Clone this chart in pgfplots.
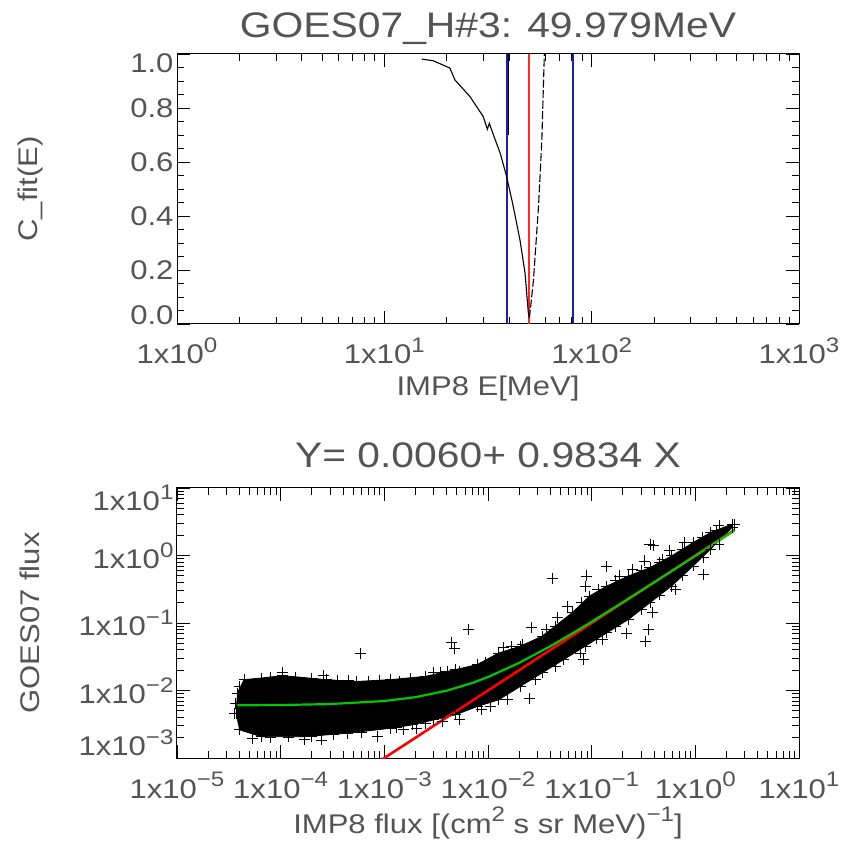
\documentclass[border=0pt]{standalone}
\usepackage{pgfplots}
\pgfplotsset{compat=1.18}
\usepackage{fontspec}
\setmainfont{Liberation Sans}[FakeStretch=1.15]
\definecolor{txt}{gray}{0.33}
\definecolor{navyb}{RGB}{30,30,160}
\definecolor{fitred}{RGB}{255,40,40}
\definecolor{gr}{RGB}{0,200,0}
\newcommand{\sh}[2]{\raisebox{#1}[\height][\depth]{#2}}
\newcommand{\sps}[1]{\raisebox{0.42em}{\fontsize{21}{21}\selectfont #1}}
\newcommand{\tl}[1]{1x10\sps{#1}}
\pgfplotsset{idl/.style={
  scale only axis, width=622pt, height=270pt, anchor=south west,
  tick align=inside, xtick pos=both, ytick pos=both,
  major tick length=13pt, minor tick length=7pt,
  every tick/.style={black, line width=0.8pt},
  axis line style={line width=1pt},
  ticklabel style={font=\fontsize{27}{30}\selectfont, text=txt},
  xticklabel style={anchor=base, yshift=-40pt},
  label style={font=\fontsize{27}{30}\selectfont, text=txt},
  title style={font=\fontsize{35.5}{40}\selectfont, text=txt},
  xlabel style={at={(axis description cs:0.5,-0.24)}, anchor=center},
  ylabel style={at={(axis description cs:-0.236,0.5)}, anchor=center},
}}
\begin{document}
\begin{tikzpicture}
\useasboundingbox (0,0) rectangle (845pt,845pt);
\begin{axis}[idl,
 at={(177pt,521pt)},
 xmode=log, xmin=1, xmax=1000, ymin=0, ymax=1,
 xtick={1,10,100,1000},
 minor xtick={2,3,4,5,6,7,8,9,20,30,40,50,60,70,80,90,200,300,400,500,600,700,800,900},
 xticklabels={\tl{0},\tl{1},\tl{2},\tl{3}},
 ytick={0,0.2,0.4,0.6,0.8,1},
 minor ytick={0.05,0.1,0.15,0.25,0.3,0.35,0.45,0.5,0.55,0.65,0.7,0.75,0.85,0.9,0.95},
 yticklabels={\sh{9pt}{0.0},0.2,0.4,0.6,0.8,\sh{-9pt}{1.0}},
 title={GOES07\_H\#3: 49.979MeV},
 title style={at={(axis description cs:0.5,1)}, anchor=base, yshift=10pt},
 xlabel={IMP8 E[MeV]}, ylabel={C\_fit(E)},
]
\addplot[color=navyb, line width=1.3pt] coordinates {(39.1,0) (39.1,1)};
\addplot[color=navyb, line width=1.3pt] coordinates {(81.3,0) (81.3,1)};
\addplot[color=fitred, line width=1.7pt] coordinates {(49.979,0) (49.979,1)};
\addplot[black, line width=1.1pt] coordinates {(15.15,0.981) (17.2,0.975) (20.7,0.948) (21.9,0.904) (25.9,0.842) (30.0,0.768) (31.4,0.721) (32.1,0.743) (33.6,0.700) (36.2,0.633) (38.9,0.546) (41.9,0.434) (45.1,0.311) (47.7,0.189) (49.5,0.041) (50.1,0.022)};
\addplot[black, line width=1.1pt, dash pattern=on 8pt off 2.5pt] coordinates {(50.1,0.022) (52.4,0.163) (55.4,0.434) (57.5,0.681) (59.1,0.996) (59.4,1.05)};
\addplot[black, line width=1.1pt] coordinates {(39.7,0.70) (39.7,1.05)};
\end{axis}
\begin{axis}[idl,
 at={(177pt,87pt)},
 xmode=log, ymode=log, xmin=1e-5, xmax=10, ymin=1e-3, ymax=10,
 xtick={1e-5,1e-4,1e-3,1e-2,1e-1,1,10},
 minor xtick={2e-5,3e-5,4e-5,5e-5,6e-5,7e-5,8e-5,9e-5,2e-4,3e-4,4e-4,5e-4,6e-4,7e-4,8e-4,9e-4,2e-3,3e-3,4e-3,5e-3,6e-3,7e-3,8e-3,9e-3,0.02,0.03,0.04,0.05,0.06,0.07,0.08,0.09,0.2,0.3,0.4,0.5,0.6,0.7,0.8,0.9,2,3,4,5,6,7,8,9},
 xticklabels={\tl{−5},\tl{−4},\tl{−3},\tl{−2},\tl{−1},\tl{0},\tl{1}},
 ytick={1e-3,1e-2,1e-1,1,10},
 minor ytick={2e-3,3e-3,4e-3,5e-3,6e-3,7e-3,8e-3,9e-3,0.02,0.03,0.04,0.05,0.06,0.07,0.08,0.09,0.2,0.3,0.4,0.5,0.6,0.7,0.8,0.9,2,3,4,5,6,7,8,9},
 yticklabels={\sh{15pt}{\tl{−3}},\tl{−2},\tl{−1},\tl{0},\sh{-10pt}{\tl{1}}},
 title={Y= 0.0060+ 0.9834 X},
 title style={at={(axis description cs:0.5,1)}, anchor=base, yshift=14pt},
 xlabel={IMP8 flux [(cm\sps{2} s sr MeV)\sps{−1}]}, ylabel={GOES07 flux},
]
% dense core of the scatter
\addplot[fill=black, draw=black, line width=0.8pt] coordinates {
(3.83e-5,9.16e-3) (4.43e-5,1.45e-2) (6.49e-5,1.53e-2) (1.05e-4,1.66e-2) (2.74e-4,1.45e-2)
(5.36e-4,1.36e-2) (1.15e-3,1.45e-2) (2.49e-3,1.62e-2) (4.86e-3,2.04e-2) (7.87e-3,2.42e-2)
(1.27e-2,3.60e-2) (2.05e-2,4.53e-2) (3.32e-2,6.37e-2) (4.43e-2,8.97e-2) (6.49e-2,0.142)
(9.53e-2,0.251) (0.140,0.353) (0.226,0.497) (0.365,0.661) (0.590,0.986) (0.953,1.556)
(1.40,2.19) (2.26,2.92) (2.26,2.60) (1.40,1.239) (0.953,0.700) (0.590,0.353) (0.365,0.200)
(0.226,0.1127) (0.140,7.14e-2) (8.65e-2,4.53e-2) (5.36e-2,2.86e-2) (3.32e-2,1.82e-2)
(2.05e-2,1.15e-2) (1.27e-2,7.28e-3) (7.87e-3,5.79e-3) (4.86e-3,4.36e-3) (3.01e-3,3.67e-3)
(1.87e-3,3.10e-3) (1.15e-3,2.76e-3) (4.43e-4,2.33e-3) (1.69e-4,2.07e-3) (6.49e-5,2.07e-3)
(4.02e-5,2.61e-3) (3.72e-5,4.61e-3) (3.83e-5,9.16e-3)};
% individual points (edges and outliers)
\addplot[only marks, mark=+, mark size=5.5pt, black, line width=0.9pt] coordinates {
(3.83e-5,9.16e-3) (4.43e-5,1.45e-2) (6.49e-5,1.53e-2) (1.05e-4,1.66e-2) (2.74e-4,1.45e-2)
(5.36e-4,1.36e-2) (1.15e-3,1.45e-2) (2.49e-3,1.62e-2) (4.86e-3,2.04e-2) (7.87e-3,2.42e-2)
(1.27e-2,3.60e-2) (2.05e-2,4.53e-2) (3.32e-2,6.37e-2) (4.43e-2,8.97e-2) (6.49e-2,0.142)
(9.53e-2,0.251) (0.140,0.353) (0.226,0.497) (0.365,0.661) (0.590,0.986) (0.953,1.556)
(1.40,2.19) (2.26,2.92) (2.26,2.60) (1.40,1.239) (0.953,0.700) (0.590,0.353) (0.365,0.200)
(0.226,0.1127) (0.140,7.14e-2) (8.65e-2,4.53e-2) (5.36e-2,2.86e-2) (3.32e-2,1.82e-2)
(2.05e-2,1.15e-2) (1.27e-2,7.28e-3) (7.87e-3,5.79e-3) (4.86e-3,4.36e-3) (3.01e-3,3.67e-3)
(1.87e-3,3.10e-3) (1.15e-3,2.76e-3) (4.43e-4,2.33e-3) (1.69e-4,2.07e-3) (6.49e-5,2.07e-3)
(4.02e-5,2.61e-3) (3.72e-5,4.61e-3)
(5.36e-5,1.96e-3) (1.69e-4,1.90e-3) (2.49e-4,1.85e-3) (8.65e-4,2.07e-3) (1.54e-3,2.67e-3)
(2.05e-3,2.76e-3) (3.65e-3,3.47e-3) (5.36e-3,3.67e-3) (8.65e-3,5.18e-3) (1.05e-2,5.79e-3)
(1.54e-2,7.28e-3) (4.43e-2,2.28e-2) (7.87e-2,3.60e-2) (0.127,5.69e-2)
(1.40e-3,1.36e-2) (3.01e-3,1.82e-2) (3.48e-3,1.86e-2) (4.02e-3,1.92e-2) (5.36e-3,1.88e-2)
(9.53e-3,2.56e-2) (1.40e-2,4.28e-2) (1.69e-2,4.53e-2) (2.15e-2,4.79e-2) (3.65e-2,8.0e-2)
(4.64e-2,0.119) (5.90e-2,0.178) (0.115,0.315) (0.187,0.497) (0.249,0.625) (0.486,0.879)
(1.16,1.85) (1.69,2.75)
(3.65e-5,6.50e-3) (3.58e-5,4.61e-3) (4.02e-5,1.15e-2)
(8e-5,1.58e-2) (1.4e-4,1.55e-2) (2e-4,1.50e-2) (3.5e-4,1.42e-2) (4.5e-4,1.40e-2)
(7e-4,1.38e-2) (9e-4,1.42e-2) (1.8e-3,1.5e-2)
(8e-5,2.0e-3) (1.2e-4,2.05e-3) (2e-4,2.1e-3) (3.2e-4,2.2e-3) (6e-4,2.4e-3)
(1.3e-3,2.85e-3) (2.5e-3,3.3e-3)
(0.3,0.6) (0.45,0.8) (0.75,1.25) (0.17,0.42) (0.08,0.2)
(0.3,0.16) (0.45,0.26) (0.75,0.5) (1.2,0.95) (0.17,0.09) (0.11,0.058)
(5.90e-4,3.48e-2) (6.49e-3,8.0e-2) (4.43e-3,5.19e-2) (4.78e-3,4.13e-2) (2.61e-4,1.66e-2)
(1.05e-4,1.86e-2) (4.22e-2,0.459) (8.83e-2,0.497) (8.65e-2,0.353) (0.140,0.684)
(0.365,1.47) (0.394,1.39) (0.325,0.830) (2.61e-2,8.67e-2) (2.49e-2,7.53e-3)
(2.87e-2,1.45e-2) (8.26e-2,2.86e-2) (0.215,6.98e-2) (0.332,5.37e-2) (0.355,8.0e-2)
(0.383,0.145) (1.21,0.526) (0.562,1.20) (0.787,1.56) (2.37,2.92) (1.61,2.32) (1.69,1.47)
(0.649,0.315)};
\addplot[red, line width=2.6pt] coordinates {(5e-4,5e-4) (2.4,2.4)};
\addplot[gr, line width=2.2pt] coordinates {(3.83e-5,0.006038) (1e-4,0.006098) (3e-4,0.006295)
(1e-3,0.006983) (2e-3,0.007967) (4e-3,0.009934) (7e-3,0.012884) (1e-2,0.015834)
(2e-2,0.025668) (4e-2,0.045336) (7e-2,0.074838) (0.1,0.10434) (0.2,0.20268)
(0.4,0.39936) (0.7,0.69438) (1,0.9894) (1.5,1.4811) (2.4,2.3662)};
\end{axis}
\end{tikzpicture}
\end{document}
